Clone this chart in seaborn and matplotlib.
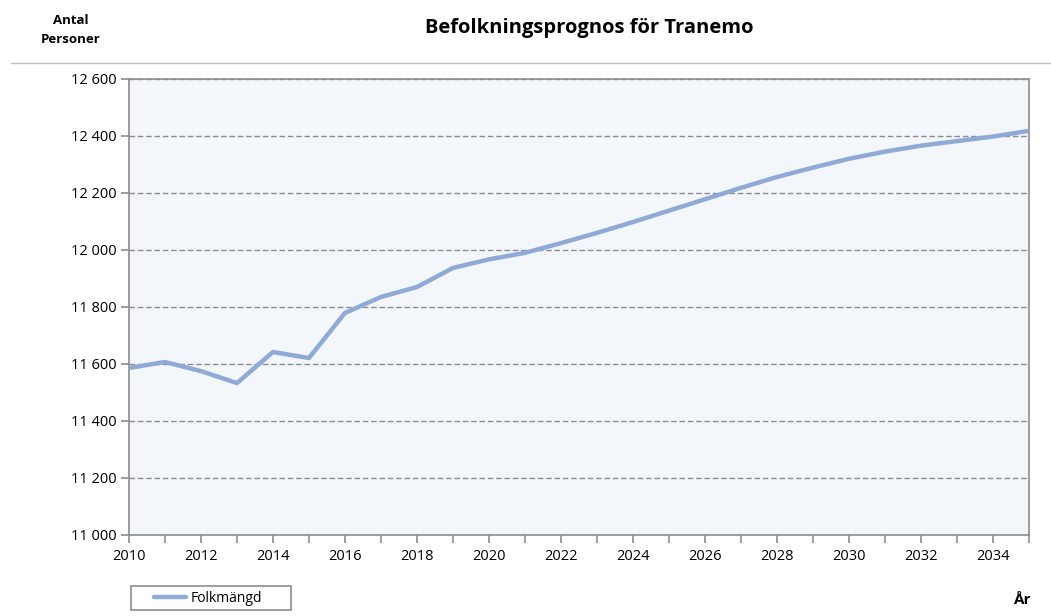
import pandas as pd
import matplotlib.pyplot as plt
import seaborn as sns
from matplotlib.lines import Line2D
from matplotlib.patches import Rectangle
from matplotlib.ticker import FuncFormatter, MultipleLocator

years = list(range(2010, 2036))
population = [11586, 11607, 11575, 11533, 11642, 11621, 11779, 11835, 11870, 11937,
              11967, 11990, 12024, 12060, 12098, 12138, 12178, 12218, 12256, 12289,
              12320, 12345, 12366, 12382, 12398, 12418]

df = pd.DataFrame({'År': years, 'Folkmängd': population})

sns.set_style('white')
plt.rcParams['font.family'] = ['Open Sans', 'DejaVu Sans']
plt.rcParams['text.color'] = 'black'

fig = plt.figure(figsize=(10.51, 6.16), dpi=100)
ax = fig.add_axes([0.1227, 0.1315, 0.8563, 0.7403])
ax.set_facecolor('#F3F6FB')

line_color = '#8FAAD6'
sns.lineplot(data=df, x='År', y='Folkmängd', ax=ax, color=line_color, linewidth=3.2,
             solid_joinstyle='round', solid_capstyle='round', zorder=3)

ax.set_xlim(2010, 2035)
ax.set_ylim(11000, 12600)
ax.xaxis.set_major_locator(MultipleLocator(2))
ax.xaxis.set_minor_locator(MultipleLocator(1))
ax.yaxis.set_major_locator(MultipleLocator(200))
ax.yaxis.set_major_formatter(FuncFormatter(lambda v, p: f'{int(v):,}'.replace(',', ' ')))

ax.grid(axis='y', color='#8C8C8C', linestyle=(0, (4, 2)), linewidth=1.0, zorder=1)
for s in ax.spines.values():
    s.set_color('#8C8C8C')
    s.set_linewidth(1.2)

ax.tick_params(axis='both', which='both', direction='out', color='#8C8C8C',
               labelsize=10.5, labelcolor='black', width=1.2, bottom=True, left=True)
ax.tick_params(axis='y', length=6, pad=3)
ax.tick_params(axis='x', which='major', length=6, pad=4)
ax.tick_params(axis='x', which='minor', length=6)
ax.set_xlabel('')
ax.set_ylabel('')

fig.text(0.561, 0.955, 'Befolkningsprognos för Tranemo', ha='center', va='center',
         fontsize=14.5, fontweight='bold', color='black')
fig.text(0.067, 0.966, 'Antal', ha='center', va='center', fontsize=9.5, fontweight='bold')
fig.text(0.067, 0.936, 'Personer', ha='center', va='center', fontsize=9.5, fontweight='bold')
fig.text(0.972, 0.015, 'År', ha='center', va='bottom', fontsize=11, fontweight='bold')

fig.add_artist(Line2D([0.01, 1.0], [0.898, 0.898], color='#BFBFBF', linewidth=1))

# legend box
fig.add_artist(Rectangle((0.1246, 0.0097), 0.1523, 0.039, transform=fig.transFigure,
                         fill=False, edgecolor='#8C8C8C', linewidth=1.2))
handle = Line2D([], [], color=line_color, linewidth=3.2, solid_capstyle='round')
fig.legend([handle], ['Folkmängd'], loc='center left', bbox_to_anchor=(0.140, 0.0292),
           frameon=False, fontsize=10, handlelength=2.3, handletextpad=0.3, borderpad=0)

fig.savefig('out.png', dpi=100)
